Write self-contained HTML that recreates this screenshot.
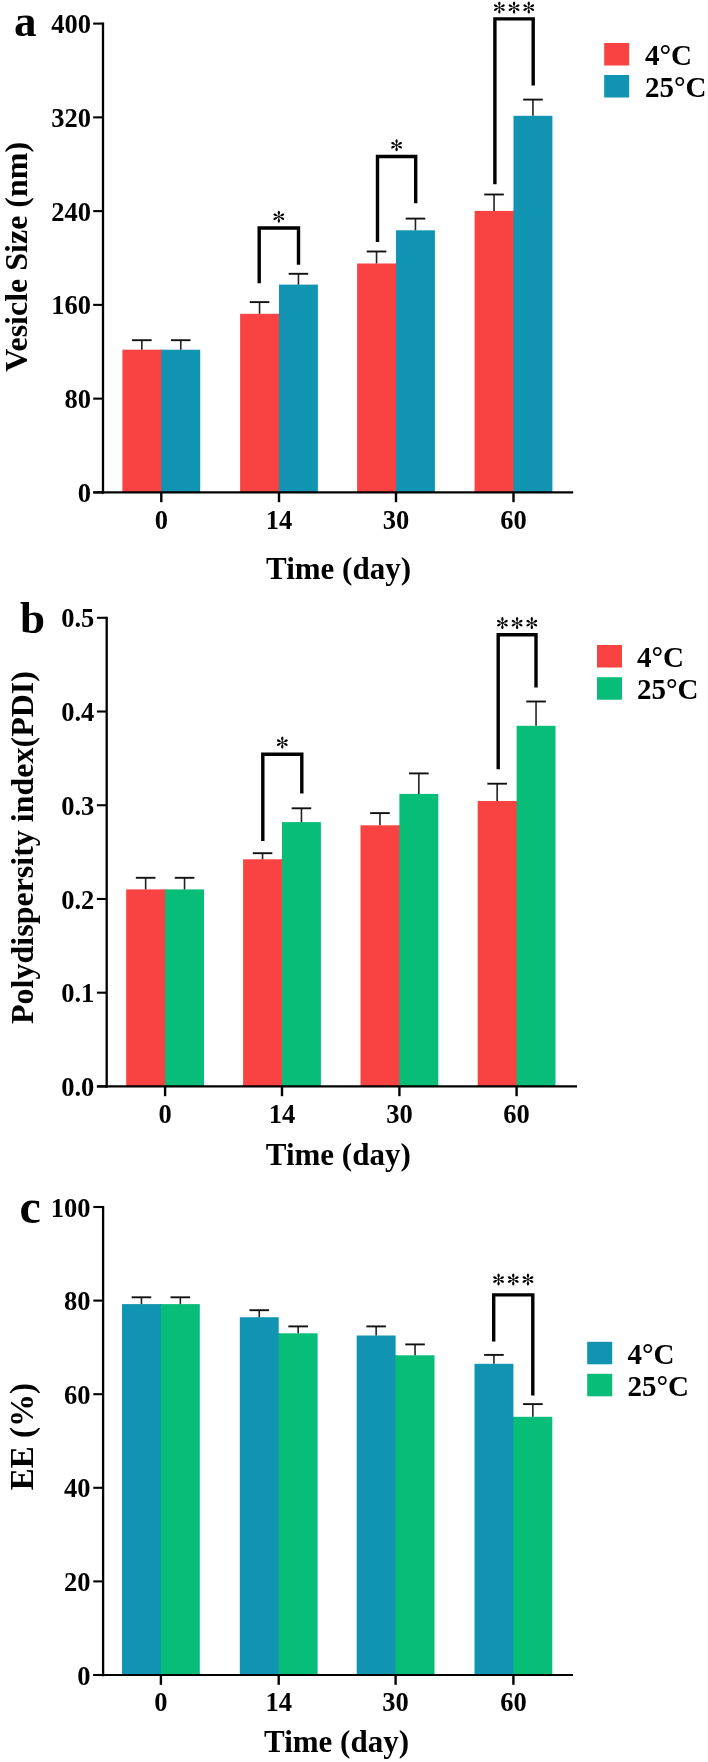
<!DOCTYPE html>
<html><head><meta charset="utf-8"><style>
html,body{margin:0;padding:0;background:#fff;}
svg{display:block;will-change:transform;}
text{font-family:"Liberation Serif", serif;fill:#000;}
</style></head><body>
<svg width="708" height="1762" viewBox="0 0 708 1762">
<rect width="708" height="1762" fill="#fff"/>
<defs><g id="ast" fill="#000"><ellipse cx="0.00" cy="-4.10" rx="1.15" ry="1.9" transform="rotate(0 0.00 -4.10)"/><line x1="0" y1="0" x2="0.00" y2="-4.10" stroke="#000" stroke-width="0.9"/><ellipse cx="3.65" cy="-1.86" rx="1.15" ry="1.9" transform="rotate(63 3.65 -1.86)"/><line x1="0" y1="0" x2="3.65" y2="-1.86" stroke="#000" stroke-width="0.9"/><ellipse cx="3.65" cy="1.86" rx="1.15" ry="1.9" transform="rotate(117 3.65 1.86)"/><line x1="0" y1="0" x2="3.65" y2="1.86" stroke="#000" stroke-width="0.9"/><ellipse cx="0.00" cy="4.10" rx="1.15" ry="1.9" transform="rotate(180 0.00 4.10)"/><line x1="0" y1="0" x2="0.00" y2="4.10" stroke="#000" stroke-width="0.9"/><ellipse cx="-3.65" cy="1.86" rx="1.15" ry="1.9" transform="rotate(-117 -3.65 1.86)"/><line x1="0" y1="0" x2="-3.65" y2="1.86" stroke="#000" stroke-width="0.9"/><ellipse cx="-3.65" cy="-1.86" rx="1.15" ry="1.9" transform="rotate(-63 -3.65 -1.86)"/><line x1="0" y1="0" x2="-3.65" y2="-1.86" stroke="#000" stroke-width="0.9"/></g></defs>
<line x1="103.00" y1="22.50" x2="103.00" y2="493.70" stroke="#000" stroke-width="2.3"/>
<line x1="93.20" y1="23.60" x2="103.00" y2="23.60" stroke="#000" stroke-width="2.1"/>
<text x="91.00" y="33.20" font-size="26.5" font-weight="bold" text-anchor="end" >400</text>
<line x1="93.20" y1="117.36" x2="103.00" y2="117.36" stroke="#000" stroke-width="2.1"/>
<text x="91.00" y="126.96" font-size="26.5" font-weight="bold" text-anchor="end" >320</text>
<line x1="93.20" y1="211.12" x2="103.00" y2="211.12" stroke="#000" stroke-width="2.1"/>
<text x="91.00" y="220.72" font-size="26.5" font-weight="bold" text-anchor="end" >240</text>
<line x1="93.20" y1="304.88" x2="103.00" y2="304.88" stroke="#000" stroke-width="2.1"/>
<text x="91.00" y="314.48" font-size="26.5" font-weight="bold" text-anchor="end" >160</text>
<line x1="93.20" y1="398.64" x2="103.00" y2="398.64" stroke="#000" stroke-width="2.1"/>
<text x="91.00" y="408.24" font-size="26.5" font-weight="bold" text-anchor="end" >80</text>
<line x1="93.20" y1="492.40" x2="103.00" y2="492.40" stroke="#000" stroke-width="2.1"/>
<text x="91.00" y="502.00" font-size="26.5" font-weight="bold" text-anchor="end" >0</text>
<rect x="122.40" y="349.70" width="38.90" height="142.70" fill="#f94343"/>
<rect x="160.30" y="349.70" width="2.00" height="142.70" fill="#f94343"/>
<rect x="161.30" y="349.70" width="38.90" height="142.70" fill="#1194b2"/>
<line x1="141.85" y1="340.20" x2="141.85" y2="349.70" stroke="#222" stroke-width="1.6"/>
<line x1="132.05" y1="340.20" x2="151.65" y2="340.20" stroke="#111" stroke-width="1.9"/>
<line x1="180.75" y1="340.20" x2="180.75" y2="349.70" stroke="#222" stroke-width="1.6"/>
<line x1="170.95" y1="340.20" x2="190.55" y2="340.20" stroke="#111" stroke-width="1.9"/>
<rect x="240.10" y="313.80" width="38.90" height="178.60" fill="#f94343"/>
<rect x="278.00" y="313.80" width="2.00" height="178.60" fill="#f94343"/>
<rect x="279.00" y="284.60" width="38.90" height="207.80" fill="#1194b2"/>
<line x1="259.55" y1="302.10" x2="259.55" y2="313.80" stroke="#222" stroke-width="1.6"/>
<line x1="249.75" y1="302.10" x2="269.35" y2="302.10" stroke="#111" stroke-width="1.9"/>
<line x1="298.45" y1="273.80" x2="298.45" y2="284.60" stroke="#222" stroke-width="1.6"/>
<line x1="288.65" y1="273.80" x2="308.25" y2="273.80" stroke="#111" stroke-width="1.9"/>
<rect x="357.10" y="263.50" width="38.90" height="228.90" fill="#f94343"/>
<rect x="395.00" y="263.50" width="2.00" height="228.90" fill="#f94343"/>
<rect x="396.00" y="230.30" width="38.90" height="262.10" fill="#1194b2"/>
<line x1="376.55" y1="251.50" x2="376.55" y2="263.50" stroke="#222" stroke-width="1.6"/>
<line x1="366.75" y1="251.50" x2="386.35" y2="251.50" stroke="#111" stroke-width="1.9"/>
<line x1="415.45" y1="218.60" x2="415.45" y2="230.30" stroke="#222" stroke-width="1.6"/>
<line x1="405.65" y1="218.60" x2="425.25" y2="218.60" stroke="#111" stroke-width="1.9"/>
<rect x="474.60" y="210.90" width="38.90" height="281.50" fill="#f94343"/>
<rect x="512.50" y="210.90" width="2.00" height="281.50" fill="#f94343"/>
<rect x="513.50" y="115.80" width="38.90" height="376.60" fill="#1194b2"/>
<line x1="494.05" y1="194.50" x2="494.05" y2="210.90" stroke="#222" stroke-width="1.6"/>
<line x1="484.25" y1="194.50" x2="503.85" y2="194.50" stroke="#111" stroke-width="1.9"/>
<line x1="532.95" y1="99.60" x2="532.95" y2="115.80" stroke="#222" stroke-width="1.6"/>
<line x1="523.15" y1="99.60" x2="542.75" y2="99.60" stroke="#111" stroke-width="1.9"/>
<line x1="93.20" y1="492.40" x2="573.20" y2="492.40" stroke="#000" stroke-width="2.2"/>
<line x1="161.30" y1="492.40" x2="161.30" y2="502.20" stroke="#000" stroke-width="2.4"/>
<text x="161.30" y="528.80" font-size="26.5" font-weight="bold" text-anchor="middle" >0</text>
<line x1="279.00" y1="492.40" x2="279.00" y2="502.20" stroke="#000" stroke-width="2.4"/>
<text x="279.00" y="528.80" font-size="26.5" font-weight="bold" text-anchor="middle" >14</text>
<line x1="396.00" y1="492.40" x2="396.00" y2="502.20" stroke="#000" stroke-width="2.4"/>
<text x="396.00" y="528.80" font-size="26.5" font-weight="bold" text-anchor="middle" >30</text>
<line x1="513.50" y1="492.40" x2="513.50" y2="502.20" stroke="#000" stroke-width="2.4"/>
<text x="513.50" y="528.80" font-size="26.5" font-weight="bold" text-anchor="middle" >60</text>
<path d="M259.20 283.20 V228.00 H298.50 V264.80" fill="none" stroke="#000" stroke-width="3.4" stroke-linejoin="miter"/>
<use href="#ast" x="278.85" y="216.70"/>
<path d="M377.50 242.00 V156.50 H415.70 V203.20" fill="none" stroke="#000" stroke-width="3.4" stroke-linejoin="miter"/>
<use href="#ast" x="396.60" y="145.20"/>
<path d="M494.90 184.30 V18.90 H533.20 V85.50" fill="none" stroke="#000" stroke-width="3.4" stroke-linejoin="miter"/>
<use href="#ast" x="499.35" y="7.60"/>
<use href="#ast" x="514.05" y="7.60"/>
<use href="#ast" x="528.75" y="7.60"/>
<rect x="604.20" y="43.00" width="25.00" height="22.50" fill="#f94343"/>
<rect x="604.20" y="75.00" width="25.00" height="22.50" fill="#1194b2"/>
<text x="645.00" y="65.00" font-size="29" font-weight="bold" text-anchor="start" >4°C</text>
<text x="645.00" y="97.00" font-size="29" font-weight="bold" text-anchor="start" >25°C</text>
<text x="338.50" y="578.60" font-size="31" font-weight="bold" text-anchor="middle" >Time (day)</text>
<text transform="translate(26.50,256.80) rotate(-90)" font-size="32" font-weight="bold" text-anchor="middle">Vesicle Size (nm)</text>
<text x="14.00" y="36.30" font-size="45" font-weight="bold" text-anchor="start" >a</text>
<line x1="106.70" y1="616.70" x2="106.70" y2="1087.70" stroke="#000" stroke-width="2.3"/>
<line x1="96.90" y1="617.80" x2="106.70" y2="617.80" stroke="#000" stroke-width="2.1"/>
<text x="94.30" y="627.40" font-size="26.5" font-weight="bold" text-anchor="end" >0.5</text>
<line x1="96.90" y1="711.52" x2="106.70" y2="711.52" stroke="#000" stroke-width="2.1"/>
<text x="94.30" y="721.12" font-size="26.5" font-weight="bold" text-anchor="end" >0.4</text>
<line x1="96.90" y1="805.24" x2="106.70" y2="805.24" stroke="#000" stroke-width="2.1"/>
<text x="94.30" y="814.84" font-size="26.5" font-weight="bold" text-anchor="end" >0.3</text>
<line x1="96.90" y1="898.96" x2="106.70" y2="898.96" stroke="#000" stroke-width="2.1"/>
<text x="94.30" y="908.56" font-size="26.5" font-weight="bold" text-anchor="end" >0.2</text>
<line x1="96.90" y1="992.68" x2="106.70" y2="992.68" stroke="#000" stroke-width="2.1"/>
<text x="94.30" y="1002.28" font-size="26.5" font-weight="bold" text-anchor="end" >0.1</text>
<line x1="96.90" y1="1086.40" x2="106.70" y2="1086.40" stroke="#000" stroke-width="2.1"/>
<text x="94.30" y="1096.00" font-size="26.5" font-weight="bold" text-anchor="end" >0.0</text>
<rect x="126.20" y="889.40" width="38.90" height="197.00" fill="#f94343"/>
<rect x="164.10" y="889.40" width="2.00" height="197.00" fill="#f94343"/>
<rect x="165.10" y="889.40" width="38.90" height="197.00" fill="#07bd77"/>
<line x1="145.65" y1="877.80" x2="145.65" y2="889.40" stroke="#222" stroke-width="1.6"/>
<line x1="135.85" y1="877.80" x2="155.45" y2="877.80" stroke="#111" stroke-width="1.9"/>
<line x1="184.55" y1="877.80" x2="184.55" y2="889.40" stroke="#222" stroke-width="1.6"/>
<line x1="174.75" y1="877.80" x2="194.35" y2="877.80" stroke="#111" stroke-width="1.9"/>
<rect x="243.10" y="859.30" width="38.90" height="227.10" fill="#f94343"/>
<rect x="281.00" y="859.30" width="2.00" height="227.10" fill="#f94343"/>
<rect x="282.00" y="822.10" width="38.90" height="264.30" fill="#07bd77"/>
<line x1="262.55" y1="853.20" x2="262.55" y2="859.30" stroke="#222" stroke-width="1.6"/>
<line x1="252.75" y1="853.20" x2="272.35" y2="853.20" stroke="#111" stroke-width="1.9"/>
<line x1="301.45" y1="808.30" x2="301.45" y2="822.10" stroke="#222" stroke-width="1.6"/>
<line x1="291.65" y1="808.30" x2="311.25" y2="808.30" stroke="#111" stroke-width="1.9"/>
<rect x="360.50" y="825.30" width="38.90" height="261.10" fill="#f94343"/>
<rect x="398.40" y="825.30" width="2.00" height="261.10" fill="#f94343"/>
<rect x="399.40" y="793.90" width="38.90" height="292.50" fill="#07bd77"/>
<line x1="379.95" y1="813.10" x2="379.95" y2="825.30" stroke="#222" stroke-width="1.6"/>
<line x1="370.15" y1="813.10" x2="389.75" y2="813.10" stroke="#111" stroke-width="1.9"/>
<line x1="418.85" y1="773.40" x2="418.85" y2="793.90" stroke="#222" stroke-width="1.6"/>
<line x1="409.05" y1="773.40" x2="428.65" y2="773.40" stroke="#111" stroke-width="1.9"/>
<rect x="477.70" y="801.00" width="38.90" height="285.40" fill="#f94343"/>
<rect x="515.60" y="801.00" width="2.00" height="285.40" fill="#f94343"/>
<rect x="516.60" y="725.80" width="38.90" height="360.60" fill="#07bd77"/>
<line x1="497.15" y1="783.70" x2="497.15" y2="801.00" stroke="#222" stroke-width="1.6"/>
<line x1="487.35" y1="783.70" x2="506.95" y2="783.70" stroke="#111" stroke-width="1.9"/>
<line x1="536.05" y1="701.50" x2="536.05" y2="725.80" stroke="#222" stroke-width="1.6"/>
<line x1="526.25" y1="701.50" x2="545.85" y2="701.50" stroke="#111" stroke-width="1.9"/>
<line x1="96.90" y1="1086.40" x2="577.00" y2="1086.40" stroke="#000" stroke-width="2.2"/>
<line x1="165.10" y1="1086.40" x2="165.10" y2="1096.20" stroke="#000" stroke-width="2.4"/>
<text x="165.10" y="1122.80" font-size="26.5" font-weight="bold" text-anchor="middle" >0</text>
<line x1="282.00" y1="1086.40" x2="282.00" y2="1096.20" stroke="#000" stroke-width="2.4"/>
<text x="282.00" y="1122.80" font-size="26.5" font-weight="bold" text-anchor="middle" >14</text>
<line x1="399.40" y1="1086.40" x2="399.40" y2="1096.20" stroke="#000" stroke-width="2.4"/>
<text x="399.40" y="1122.80" font-size="26.5" font-weight="bold" text-anchor="middle" >30</text>
<line x1="516.60" y1="1086.40" x2="516.60" y2="1096.20" stroke="#000" stroke-width="2.4"/>
<text x="516.60" y="1122.80" font-size="26.5" font-weight="bold" text-anchor="middle" >60</text>
<path d="M262.80 840.90 V754.20 H301.80 V793.50" fill="none" stroke="#000" stroke-width="3.4" stroke-linejoin="miter"/>
<use href="#ast" x="282.30" y="742.60"/>
<path d="M498.20 769.30 V634.70 H536.00 V687.40" fill="none" stroke="#000" stroke-width="3.4" stroke-linejoin="miter"/>
<use href="#ast" x="502.40" y="623.10"/>
<use href="#ast" x="517.10" y="623.10"/>
<use href="#ast" x="531.80" y="623.10"/>
<rect x="597.00" y="645.00" width="25.00" height="22.50" fill="#f94343"/>
<rect x="597.00" y="677.20" width="25.00" height="22.50" fill="#07bd77"/>
<text x="637.00" y="667.00" font-size="29" font-weight="bold" text-anchor="start" >4°C</text>
<text x="637.00" y="699.20" font-size="29" font-weight="bold" text-anchor="start" >25°C</text>
<text x="338.30" y="1165.00" font-size="31" font-weight="bold" text-anchor="middle" >Time (day)</text>
<text transform="translate(32.80,847.50) rotate(-90)" font-size="32" font-weight="bold" text-anchor="middle">Polydispersity index(PDI)</text>
<text x="20.00" y="633.40" font-size="45" font-weight="bold" text-anchor="start" >b</text>
<line x1="103.10" y1="1205.90" x2="103.10" y2="1676.30" stroke="#000" stroke-width="2.3"/>
<line x1="93.30" y1="1207.00" x2="103.10" y2="1207.00" stroke="#000" stroke-width="2.1"/>
<text x="90.60" y="1216.60" font-size="26.5" font-weight="bold" text-anchor="end" >100</text>
<line x1="93.30" y1="1300.60" x2="103.10" y2="1300.60" stroke="#000" stroke-width="2.1"/>
<text x="90.60" y="1310.20" font-size="26.5" font-weight="bold" text-anchor="end" >80</text>
<line x1="93.30" y1="1394.20" x2="103.10" y2="1394.20" stroke="#000" stroke-width="2.1"/>
<text x="90.60" y="1403.80" font-size="26.5" font-weight="bold" text-anchor="end" >60</text>
<line x1="93.30" y1="1487.80" x2="103.10" y2="1487.80" stroke="#000" stroke-width="2.1"/>
<text x="90.60" y="1497.40" font-size="26.5" font-weight="bold" text-anchor="end" >40</text>
<line x1="93.30" y1="1581.40" x2="103.10" y2="1581.40" stroke="#000" stroke-width="2.1"/>
<text x="90.60" y="1591.00" font-size="26.5" font-weight="bold" text-anchor="end" >20</text>
<line x1="93.30" y1="1675.00" x2="103.10" y2="1675.00" stroke="#000" stroke-width="2.1"/>
<text x="90.60" y="1684.60" font-size="26.5" font-weight="bold" text-anchor="end" >0</text>
<rect x="122.00" y="1304.10" width="38.90" height="370.90" fill="#1194b2"/>
<rect x="159.90" y="1304.10" width="2.00" height="370.90" fill="#1194b2"/>
<rect x="160.90" y="1304.10" width="38.90" height="370.90" fill="#07bd77"/>
<line x1="141.45" y1="1297.30" x2="141.45" y2="1304.10" stroke="#222" stroke-width="1.6"/>
<line x1="131.65" y1="1297.30" x2="151.25" y2="1297.30" stroke="#111" stroke-width="1.9"/>
<line x1="180.35" y1="1297.30" x2="180.35" y2="1304.10" stroke="#222" stroke-width="1.6"/>
<line x1="170.55" y1="1297.30" x2="190.15" y2="1297.30" stroke="#111" stroke-width="1.9"/>
<rect x="239.80" y="1317.20" width="38.90" height="357.80" fill="#1194b2"/>
<rect x="277.70" y="1333.30" width="2.00" height="341.70" fill="#1194b2"/>
<rect x="278.70" y="1333.30" width="38.90" height="341.70" fill="#07bd77"/>
<line x1="259.25" y1="1310.20" x2="259.25" y2="1317.20" stroke="#222" stroke-width="1.6"/>
<line x1="249.45" y1="1310.20" x2="269.05" y2="1310.20" stroke="#111" stroke-width="1.9"/>
<line x1="298.15" y1="1326.40" x2="298.15" y2="1333.30" stroke="#222" stroke-width="1.6"/>
<line x1="288.35" y1="1326.40" x2="307.95" y2="1326.40" stroke="#111" stroke-width="1.9"/>
<rect x="356.70" y="1335.50" width="38.90" height="339.50" fill="#1194b2"/>
<rect x="394.60" y="1355.30" width="2.00" height="319.70" fill="#1194b2"/>
<rect x="395.60" y="1355.30" width="38.90" height="319.70" fill="#07bd77"/>
<line x1="376.15" y1="1326.40" x2="376.15" y2="1335.50" stroke="#222" stroke-width="1.6"/>
<line x1="366.35" y1="1326.40" x2="385.95" y2="1326.40" stroke="#111" stroke-width="1.9"/>
<line x1="415.05" y1="1344.40" x2="415.05" y2="1355.30" stroke="#222" stroke-width="1.6"/>
<line x1="405.25" y1="1344.40" x2="424.85" y2="1344.40" stroke="#111" stroke-width="1.9"/>
<rect x="474.50" y="1363.80" width="38.90" height="311.20" fill="#1194b2"/>
<rect x="512.40" y="1416.80" width="2.00" height="258.20" fill="#1194b2"/>
<rect x="513.40" y="1416.80" width="38.90" height="258.20" fill="#07bd77"/>
<line x1="493.95" y1="1354.90" x2="493.95" y2="1363.80" stroke="#222" stroke-width="1.6"/>
<line x1="484.15" y1="1354.90" x2="503.75" y2="1354.90" stroke="#111" stroke-width="1.9"/>
<line x1="532.85" y1="1404.10" x2="532.85" y2="1416.80" stroke="#222" stroke-width="1.6"/>
<line x1="523.05" y1="1404.10" x2="542.65" y2="1404.10" stroke="#111" stroke-width="1.9"/>
<line x1="93.30" y1="1675.00" x2="573.00" y2="1675.00" stroke="#000" stroke-width="2.2"/>
<line x1="160.90" y1="1675.00" x2="160.90" y2="1684.80" stroke="#000" stroke-width="2.4"/>
<text x="160.90" y="1711.40" font-size="26.5" font-weight="bold" text-anchor="middle" >0</text>
<line x1="278.70" y1="1675.00" x2="278.70" y2="1684.80" stroke="#000" stroke-width="2.4"/>
<text x="278.70" y="1711.40" font-size="26.5" font-weight="bold" text-anchor="middle" >14</text>
<line x1="395.60" y1="1675.00" x2="395.60" y2="1684.80" stroke="#000" stroke-width="2.4"/>
<text x="395.60" y="1711.40" font-size="26.5" font-weight="bold" text-anchor="middle" >30</text>
<line x1="513.40" y1="1675.00" x2="513.40" y2="1684.80" stroke="#000" stroke-width="2.4"/>
<text x="513.40" y="1711.40" font-size="26.5" font-weight="bold" text-anchor="middle" >60</text>
<path d="M493.70 1341.40 V1294.90 H532.80 V1395.50" fill="none" stroke="#000" stroke-width="3.4" stroke-linejoin="miter"/>
<use href="#ast" x="498.55" y="1279.50"/>
<use href="#ast" x="513.25" y="1279.50"/>
<use href="#ast" x="527.95" y="1279.50"/>
<rect x="587.20" y="1341.80" width="25.00" height="22.50" fill="#1194b2"/>
<rect x="587.20" y="1373.80" width="25.00" height="22.50" fill="#07bd77"/>
<text x="627.40" y="1363.80" font-size="29" font-weight="bold" text-anchor="start" >4°C</text>
<text x="627.40" y="1395.80" font-size="29" font-weight="bold" text-anchor="start" >25°C</text>
<text x="336.50" y="1752.00" font-size="31" font-weight="bold" text-anchor="middle" >Time (day)</text>
<text transform="translate(33.20,1436.60) rotate(-90)" font-size="33" font-weight="bold" text-anchor="middle">EE (%)</text>
<text x="19.50" y="1223.20" font-size="48" font-weight="bold" text-anchor="start" >c</text>
</svg>
</body></html>
